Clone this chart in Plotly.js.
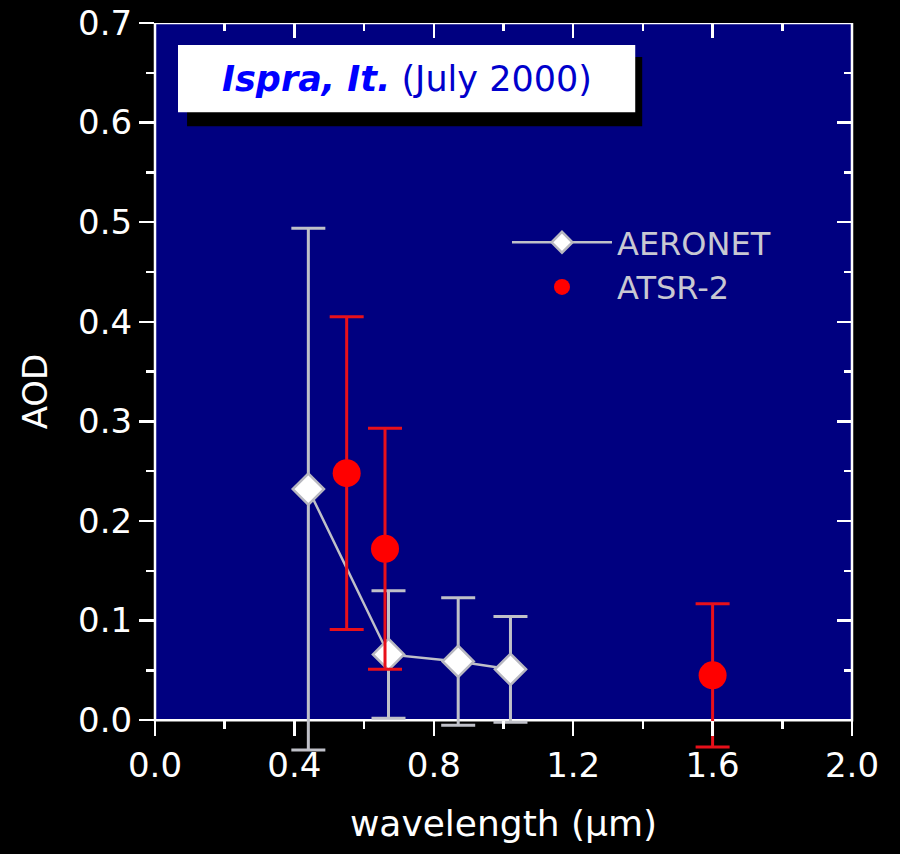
<!DOCTYPE html>
<html><head><meta charset="utf-8">
<script src="https://cdn.plot.ly/plotly-3.0.1.min.js"></script>
<style>body{margin:0;background:#000}</style>
</head><body>
<div id="chart" style="width:900px;height:854px"></div>
<script>
// AERONET
const aeroWl = [0.44, 0.67, 0.87, 1.02];
const aeroAod = [0.232, 0.066, 0.059, 0.051];
const aeroErr = [0.262, 0.064, 0.064, 0.053];
// ATSR-2
const atsrWl = [0.55, 0.66, 1.60];
const atsrAod = [0.248, 0.172, 0.045];
const atsrErr = [0.157, 0.121, 0.072];

const xTickVals = [0.0, 0.4, 0.8, 1.2, 1.6, 2.0];
const yTickVals = [0.0, 0.1, 0.2, 0.3, 0.4, 0.5, 0.6, 0.7];

const FONT = 'DejaVu Sans, Verdana, sans-serif';
const Y_MIN = -0.04, Y_MAX = 0.7;

const traces = [
  {
    name: 'AERONET', x: aeroWl, y: aeroAod, type: 'scatter', mode: 'lines+markers',
    line: {color: '#bfc0c8', width: 2.5},
    marker: {symbol: 'diamond', size: 24, color: '#ffffff', line: {color: '#b8b8c0', width: 2.5}},
    error_y: {type: 'data', array: aeroErr, visible: true, color: '#bfc0c8', thickness: 3, width: 17},
    cliponaxis: false
  },
  {
    name: 'ATSR-2', x: atsrWl, y: atsrAod, type: 'scatter', mode: 'markers',
    marker: {symbol: 'circle', size: 28, color: '#ff0000'},
    error_y: {type: 'data', array: atsrErr, visible: true, color: '#e8101a', thickness: 3, width: 17},
    cliponaxis: false
  },
  {x: [], y: [], xaxis: 'x2', yaxis: 'y2', showlegend: false, hoverinfo: 'skip', type: 'scatter'}
];

const axBase = {
  showgrid: false, zeroline: false, showline: false,
  tickcolor: '#ffffff', tickwidth: 2.5, ticklen: 15,
  tickfont: {family: FONT, size: 34, color: '#ffffff'}
};

const layout = {
  width: 900, height: 854,
  paper_bgcolor: '#000000', plot_bgcolor: '#000000',
  margin: {l: 155, r: 48, t: 23, b: 94},
  showlegend: true,
  legend: {x: 0.505, y: 0.7395, xanchor: 'left', yanchor: 'top', bgcolor: 'rgba(0,0,0,0)',
           font: {family: FONT, size: 32, color: '#c8c8d2'}, itemwidth: 100},
  xaxis: Object.assign({}, axBase, {
    range: [0, 2], tickvals: xTickVals, tickformat: '.1f', ticks: 'outside',
    anchor: 'free', position: (0 - Y_MIN) / (Y_MAX - Y_MIN),
    minor: {dtick: 0.2, ticklen: 8, tickcolor: '#ffffff', tickwidth: 2.5, ticks: 'outside'},
    title: {text: 'wavelength (μm)', font: {family: FONT, size: 36, color: '#ffffff'}, standoff: 26}
  }),
  yaxis: Object.assign({}, axBase, {
    range: [Y_MIN, Y_MAX], tickvals: yTickVals, tickformat: '.1f', ticks: 'outside',
    minor: {tickvals: [0.05, 0.15, 0.25, 0.35, 0.45, 0.55, 0.65], ticklen: 8, tickcolor: '#ffffff', tickwidth: 2.5, ticks: 'outside'},
    title: {text: 'AOD', font: {family: FONT, size: 34, color: '#ffffff'}, standoff: 20}
  }),
  xaxis2: Object.assign({}, axBase, {
    overlaying: 'x', side: 'top', anchor: 'y2', range: [0, 2], tickvals: xTickVals, ticks: 'inside',
    showticklabels: false,
    minor: {dtick: 0.2, ticklen: 8, tickcolor: '#ffffff', tickwidth: 2.5, ticks: 'inside'}
  }),
  yaxis2: Object.assign({}, axBase, {
    overlaying: 'y', side: 'right', anchor: 'x2', range: [Y_MIN, Y_MAX], tickvals: yTickVals, ticks: 'inside',
    showticklabels: false,
    minor: {tickvals: [0.05, 0.15, 0.25, 0.35, 0.45, 0.55, 0.65], ticklen: 8, tickcolor: '#ffffff', tickwidth: 2.5, ticks: 'inside'}
  }),
  shapes: [
    // navy plotting frame from AOD 0 to 0.7
    {type: 'rect', xref: 'paper', yref: 'y', x0: 0, x1: 1, y0: 0, y1: Y_MAX, layer: 'below',
     fillcolor: '#000080', line: {color: '#ffffff', width: 2.5}},
    {type: 'rect', xref: 'paper', yref: 'paper', x0: 0.046, x1: 0.699, y0: 0.860, y1: 0.954,
     fillcolor: '#000000', line: {width: 0}},
    {type: 'rect', xref: 'paper', yref: 'paper', x0: 0.033, x1: 0.689, y0: 0.879, y1: 0.970,
     fillcolor: '#ffffff', line: {width: 0}}
  ],
  annotations: [
    {xref: 'paper', yref: 'paper', x: 0.361, y: 0.924, xanchor: 'center', yanchor: 'middle',
     showarrow: false, font: {family: FONT, size: 35, color: '#0000cc'},
     text: '<span style="color:#0000ff"><b><i>Ispra, It.</i></b></span> (July 2000)'}
  ]
};

Plotly.newPlot('chart', traces, layout, {displayModeBar: false, staticPlot: true});
</script>
</body></html>
